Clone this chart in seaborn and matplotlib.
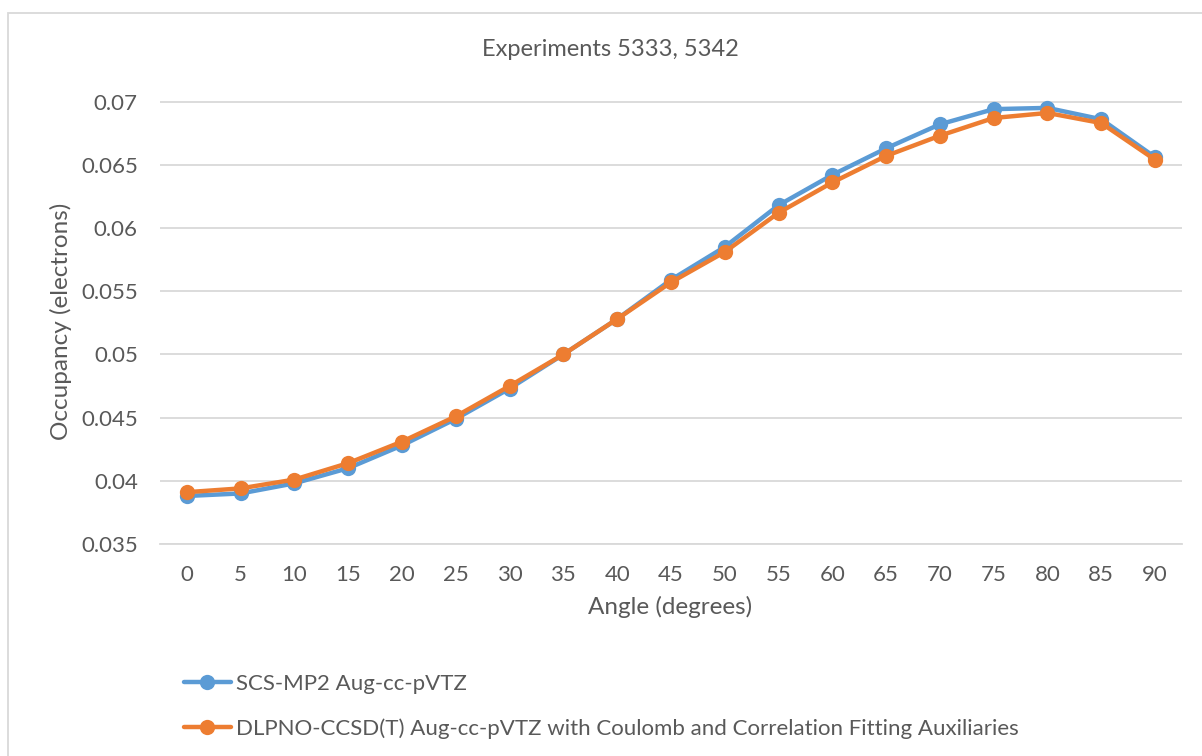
import pandas as pd
import seaborn as sns
import matplotlib.pyplot as plt
from matplotlib.patches import Rectangle

# angulos (graus)
angulos = [0, 5, 10, 15, 20, 25, 30, 35, 40, 45, 50, 55, 60, 65, 70, 75, 80, 85, 90]

# ocupacao
scs_mp2 = [0.0388, 0.0390, 0.0398, 0.0410, 0.0428, 0.0449, 0.0473, 0.0500, 0.0528, 0.0559,
           0.0585, 0.0618, 0.0642, 0.0663, 0.0682, 0.0694, 0.0695, 0.0686, 0.0656]
dlpno = [0.0391, 0.0394, 0.0401, 0.0414, 0.0431, 0.0451, 0.0475, 0.0500, 0.0528, 0.0557,
         0.0581, 0.0612, 0.0636, 0.0657, 0.0673, 0.0687, 0.0691, 0.0683, 0.0654]

nomes = ["SCS-MP2 Aug-cc-pVTZ",
         "DLPNO-CCSD(T) Aug-cc-pVTZ with Coulomb and Correlation Fitting Auxiliaries"]
cores = ["#5B9BD5", "#ED7D31"]

df = pd.DataFrame({"angulo": angulos * 2,
                   "ocupacao": scs_mp2 + dlpno,
                   "metodo": [nomes[0]] * len(angulos) + [nomes[1]] * len(angulos)})

sns.set_style("white")
plt.rcParams['font.family'] = ['Lato', 'DejaVu Sans']
cinza = "#595959"

fig = plt.figure(figsize=(12.02, 7.56), dpi=100)
ax = fig.add_axes([0.1331, 0.2804, 0.8502, 0.5886])

sns.lineplot(data=df, x="angulo", y="ocupacao", hue="metodo", palette=cores,
             marker="o", markersize=11, markeredgewidth=0, linewidth=3.2, ax=ax)

ax.set_xlim(-2.5, 92.5)
ax.set_ylim(0.035, 0.0702)
ax.set_xticks(angulos)
ax.set_xticklabels([str(a) for a in angulos])
ax.set_yticks([0.035, 0.04, 0.045, 0.05, 0.055, 0.06, 0.065, 0.07])
ax.set_yticklabels(["0.035", "0.04", "0.045", "0.05", "0.055", "0.06", "0.065", "0.07"])
ax.tick_params(axis='both', length=0, labelsize=16, colors=cinza)
ax.tick_params(axis='x', pad=15)
ax.tick_params(axis='y', pad=16)
ax.grid(axis='y', color="#D9D9D9", linewidth=1.3)
for lado in ["top", "right", "left"]:
    ax.spines[lado].set_visible(False)
ax.spines["bottom"].set_color("#D9D9D9")
ax.spines["bottom"].set_linewidth(1.3)

ax.set_xlabel("Angle (degrees)", fontsize=17.5, color=cinza)
ax.set_ylabel("Occupancy (electrons)", fontsize=17.5, color=cinza)
ax.xaxis.set_label_coords(0.4995, -0.1416)
ax.xaxis.label.set_va('center')
ax.yaxis.set_label_coords(-0.097, 0.5)
ax.yaxis.label.set_va('center')
fig.text(0.5075, 0.935, "Experiments 5333, 5342", ha='center', va='center', fontsize=17, color=cinza)

leg = ax.legend(loc='center left', bbox_to_anchor=(0.153, 0.0655), bbox_transform=fig.transFigure,
                frameon=False, fontsize=16, handlelength=2.1, handletextpad=0.25,
                labelspacing=1.1, labelcolor=cinza, borderaxespad=0, borderpad=0)

# borda do grafico
fig.patches.append(Rectangle((0.0067, -0.05), 1.1, 1.0328, transform=fig.transFigure,
                             fill=False, edgecolor="#D9D9D9", linewidth=1.3))

fig.savefig("out.png", dpi=100)
